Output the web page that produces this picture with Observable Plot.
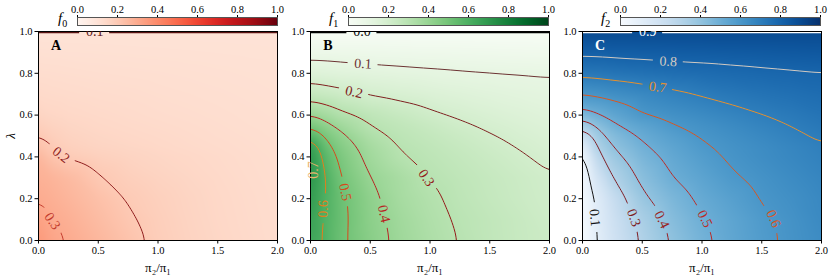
<!DOCTYPE html>
<html>
<head>
<meta charset="utf-8">
<script src="https://cdn.jsdelivr.net/npm/d3@7"></script>
<script src="https://cdn.jsdelivr.net/npm/@observablehq/plot@0.6"></script>
<style>
  html, body { margin: 0; padding: 0; background: #fff; }
  #chart { position: relative; width: 830px; height: 277px; overflow: hidden; font-family: "Liberation Serif", "DejaVu Serif", serif; }
  #chart svg { position: absolute; top: 0; }
  .cblabel { position: absolute; font-size: 15px; line-height: 1; }
  .cblabel sub { font-size: 10px; font-style: normal; }
  #chart [aria-label="y-axis label"] { font-style: italic; font-size: 13px; }
  #chart [aria-label="x-axis label"] { font-size: 13px; }
</style>
</head>
<body>
<div id="chart"></div>
<script>
// ---- grid axes ----
const ratio  = [0, 0.1, 0.25, 0.5, 0.75, 1, 1.25, 1.5, 1.75, 2];          // pi2/pi1
const lambda = [0, 0.1, 0.2, 0.3, 0.4, 0.45, 0.5, 0.55, 0.6, 0.7, 0.8, 0.9, 1]; // rows

// ---- f0 (panel A), rows = lambda, columns = ratio ----
const f0 = [
  [0.355, 0.320, 0.297, 0.260, 0.222, 0.186, 0.166, 0.151, 0.139, 0.128],
  [0.335, 0.301, 0.282, 0.245, 0.208, 0.182, 0.163, 0.148, 0.137, 0.127],
  [0.297, 0.285, 0.265, 0.230, 0.195, 0.176, 0.160, 0.146, 0.135, 0.126],
  [0.280, 0.270, 0.250, 0.203, 0.180, 0.165, 0.153, 0.142, 0.132, 0.124],
  [0.265, 0.222, 0.190, 0.175, 0.163, 0.153, 0.145, 0.137, 0.129, 0.122],
  [0.230, 0.198, 0.175, 0.160, 0.152, 0.145, 0.138, 0.132, 0.126, 0.120],
  [0.203, 0.180, 0.165, 0.153, 0.146, 0.140, 0.134, 0.128, 0.123, 0.118],
  [0.180, 0.165, 0.155, 0.146, 0.140, 0.135, 0.130, 0.125, 0.120, 0.116],
  [0.160, 0.152, 0.146, 0.140, 0.135, 0.130, 0.126, 0.122, 0.118, 0.114],
  [0.140, 0.137, 0.134, 0.130, 0.127, 0.123, 0.120, 0.117, 0.114, 0.111],
  [0.126, 0.125, 0.123, 0.120, 0.118, 0.116, 0.114, 0.112, 0.110, 0.108],
  [0.113, 0.112, 0.111, 0.110, 0.109, 0.108, 0.107, 0.106, 0.105, 0.104],
  [0.100, 0.100, 0.100, 0.100, 0.100, 0.100, 0.100, 0.100, 0.100, 0.100]
];

// ---- f1 (panel B) ----
const f1 = [
  [0.645, 0.600, 0.519, 0.440, 0.378, 0.333, 0.297, 0.268, 0.245, 0.225],
  [0.665, 0.600, 0.525, 0.432, 0.370, 0.325, 0.290, 0.266, 0.243, 0.217],
  [0.695, 0.609, 0.520, 0.425, 0.355, 0.314, 0.280, 0.255, 0.232, 0.210],
  [0.720, 0.620, 0.500, 0.400, 0.347, 0.297, 0.272, 0.249, 0.227, 0.205],
  [0.715, 0.585, 0.475, 0.370, 0.306, 0.280, 0.256, 0.232, 0.208, 0.185],
  [0.700, 0.550, 0.452, 0.356, 0.294, 0.270, 0.245, 0.220, 0.196, 0.173],
  [0.580, 0.495, 0.424, 0.329, 0.282, 0.257, 0.231, 0.205, 0.182, 0.162],
  [0.485, 0.435, 0.373, 0.297, 0.268, 0.240, 0.212, 0.188, 0.169, 0.151],
  [0.400, 0.367, 0.317, 0.275, 0.244, 0.214, 0.190, 0.171, 0.155, 0.141],
  [0.255, 0.240, 0.222, 0.193, 0.177, 0.162, 0.149, 0.137, 0.127, 0.119],
  [0.151, 0.146, 0.138, 0.128, 0.120, 0.113, 0.107, 0.103, 0.100, 0.097],
  [0.070, 0.069, 0.067, 0.064, 0.061, 0.058, 0.056, 0.053, 0.050, 0.048],
  [0.000, 0.000, 0.000, 0.000, 0.000, 0.000, 0.000, 0.000, 0.000, 0.000]
];

// ---- f2 (panel C) ----
const f2 = [
  [0.000, 0.084, 0.187, 0.314, 0.408, 0.478, 0.534, 0.579, 0.616, 0.647],
  [0.000, 0.097, 0.200, 0.335, 0.431, 0.495, 0.541, 0.586, 0.620, 0.655],
  [0.000, 0.104, 0.223, 0.383, 0.459, 0.518, 0.562, 0.605, 0.632, 0.660],
  [0.000, 0.156, 0.306, 0.424, 0.500, 0.545, 0.591, 0.620, 0.647, 0.672],
  [0.020, 0.243, 0.369, 0.465, 0.526, 0.574, 0.612, 0.640, 0.664, 0.687],
  [0.070, 0.307, 0.405, 0.488, 0.542, 0.590, 0.620, 0.645, 0.670, 0.695],
  [0.210, 0.345, 0.431, 0.514, 0.564, 0.607, 0.634, 0.660, 0.686, 0.710],
  [0.336, 0.410, 0.485, 0.545, 0.596, 0.624, 0.651, 0.677, 0.702, 0.726],
  [0.444, 0.490, 0.534, 0.600, 0.625, 0.649, 0.674, 0.698, 0.718, 0.740],
  [0.605, 0.615, 0.631, 0.657, 0.683, 0.706, 0.726, 0.742, 0.755, 0.768],
  [0.724, 0.728, 0.736, 0.748, 0.759, 0.768, 0.777, 0.785, 0.791, 0.796],
  [0.818, 0.819, 0.822, 0.826, 0.829, 0.832, 0.836, 0.839, 0.843, 0.847],
  [0.900, 0.900, 0.900, 0.900, 0.900, 0.900, 0.900, 0.900, 0.900, 0.900]
];

// ---- ticks ----
const xTicks  = [0, 0.5, 1, 1.5, 2];
const yTicks  = [0, 0.2, 0.4, 0.6, 0.8, 1];
const cbTicks = [0, 0.2, 0.4, 0.6, 0.8, 1];

// ---- contour levels drawn in each panel, and the level lying on the top edge ----
const levelsA = [0.2, 0.3], edgeA = 0.1;
const levelsB = [0.1, 0.2, 0.3, 0.4, 0.5, 0.6, 0.7], edgeB = 0.0;
const levelsC = [0.1, 0.3, 0.4, 0.5, 0.6, 0.7, 0.8], edgeC = 0.9;

// ---- inline contour labels (data coordinates on the contour) ----
const labelsA = [
  {x: 0.47, y: 1, t: 0.1, r: 0, edge: true},
  {x: 0.19, y: 0.41, t: 0.2, r: 38},
  {x: 0.117, y: 0.093, t: 0.3, r: 55}
];
const labelsB = [
  {x: 0.43, y: 1, t: 0.0, r: 0, edge: true},
  {x: 0.44, y: 0.846, t: 0.1, r: 3.5},
  {x: 0.364, y: 0.71, t: 0.2, r: 13},
  {x: 0.97, y: 0.30, t: 0.3, r: 55},
  {x: 0.615, y: 0.128, t: 0.4, r: 77},
  {x: 0.29, y: 0.232, t: 0.5, r: 78},
  {x: 0.105, y: 0.152, t: 0.6, r: -88},
  {x: 0.028, y: 0.337, t: 0.7, r: -90}
];
const labelsC = [
  {x: 0.545, y: 1, t: 0.9, r: 0, edge: true},
  {x: 0.718, y: 0.857, t: 0.8, r: 3},
  {x: 0.63, y: 0.734, t: 0.7, r: 7},
  {x: 0.103, y: 0.109, t: 0.1, r: 84},
  {x: 0.43, y: 0.109, t: 0.3, r: 70},
  {x: 0.665, y: 0.10, t: 0.4, r: 64},
  {x: 1.025, y: 0.104, t: 0.5, r: 63},
  {x: 1.60, y: 0.104, t: 0.6, r: 66}
];

// ---- contour colours ----
const colorsA = {0.1: "#5a1212", 0.2: "#8e1c1c", 0.3: "#c23a2c"};
const colorsB = {0: "#000000", 0.1: "#6b3232", 0.2: "#7e2020", 0.3: "#931818", 0.4: "#b82222",
                 0.5: "#d64a1c", 0.6: "#e27e1e", 0.7: "#ecb46e"};
const colorsC = {0.1: "#141414", 0.3: "#7e1c22", 0.4: "#9a1e22", 0.5: "#bc2a24", 0.6: "#da561e",
                 0.7: "#e5902e", 0.8: "#d2cac2", 0.9: "#ffffff"};

const panels = [
  {field: f0, scheme: "reds",   levels: levelsA, edge: edgeA, colors: colorsA, labels: labelsA,
   letter: "A", letterColor: "black", ylabel: "λ", left: 0,   cbLeft: 67,  fname: "0"},
  {field: f1, scheme: "greens", levels: levelsB, edge: edgeB, colors: colorsB, labels: labelsB,
   letter: "B", letterColor: "black", ylabel: null, left: 272, cbLeft: 338, fname: "1"},
  {field: f2, scheme: "blues",  levels: levelsC, edge: edgeC, colors: colorsC, labels: labelsC,
   letter: "C", letterColor: "white", ylabel: null, left: 544, cbLeft: 610, fname: "2"}
];

const chart = document.getElementById("chart");
const baseStyle = {background: "transparent", fontFamily: "Liberation Serif", fontSize: "10.5px", overflow: "visible"};
const ns = "http://www.w3.org/2000/svg";

panels.forEach((cfg, k) => {
  const pts = [];
  lambda.forEach((l, i) => ratio.forEach((r, j) => pts.push({r, l, v: cfg.field[i][j]})));
  const ext = {x1: d3.min(ratio), x2: d3.max(ratio), y1: d3.min(lambda), y2: d3.max(lambda)};

  const svg = Plot.plot({
    width: 285, height: 277,
    marginLeft: 38, marginRight: 8, marginTop: 31, marginBottom: 37,
    style: baseStyle,
    x: {domain: d3.extent(ratio), ticks: xTicks, tickFormat: ".1f", tickSize: 3.5, tickPadding: 2.5,
        label: "π₂/π₁", labelAnchor: "center", labelOffset: 31, labelArrow: "none"},
    y: {domain: d3.extent(lambda), ticks: yTicks, tickFormat: ".1f", tickSize: 3.5, tickPadding: 2.5,
        label: cfg.ylabel, labelAnchor: "center", labelOffset: 33, labelArrow: "none"},
    color: {type: "linear", scheme: cfg.scheme, domain: [0, 1]},
    marks: [
      Plot.raster(pts, {x: "r", y: "l", fill: "v", interpolate: "barycentric", ...ext, pixelSize: 1, blur: 4}),
      ...cfg.levels.map(t => Plot.contour(pts, {
        x: "r", y: "l", value: "v", thresholds: [t], interpolate: "barycentric", ...ext, pixelSize: 1, blur: 7,
        stroke: cfg.colors[t], strokeWidth: 1, fill: "none", clip: true
      })),
      Plot.ruleY([ext.y2], {stroke: cfg.colors[cfg.edge], strokeWidth: 1.3, dy: 1}),
      Plot.frame({stroke: "black", strokeWidth: 1}),
      ...cfg.labels.map(lb => Plot.text([lb], {
        x: "x", y: "y", text: d => d.t.toFixed(1), rotate: lb.r,
        fill: cfg.colors[lb.t], fontSize: 14, textAnchor: "middle", lineAnchor: "middle",
        clip: !!lb.edge
      })),
      Plot.text([cfg.letter], {frameAnchor: "top-left", dx: 17.5, dy: 14.5, text: d => d,
        fontSize: 14, fontWeight: "bold", fill: cfg.letterColor, textAnchor: "middle", lineAnchor: "middle"})
    ]
  });
  svg.style.left = cfg.left + "px";

  // break contour lines under their inline labels (like matplotlib clabel)
  const sx = svg.scale("x"), sy = svg.scale("y");
  const defs = document.createElementNS(ns, "defs");
  const mask = document.createElementNS(ns, "mask");
  const id = "gapmask" + k;
  mask.setAttribute("id", id);
  mask.setAttribute("maskUnits", "userSpaceOnUse");
  mask.setAttribute("x", 0); mask.setAttribute("y", 0);
  mask.setAttribute("width", 285); mask.setAttribute("height", 277);
  const full = document.createElementNS(ns, "rect");
  full.setAttribute("width", 285); full.setAttribute("height", 277); full.setAttribute("fill", "white");
  mask.appendChild(full);
  cfg.labels.forEach(lb => {
    const r = document.createElementNS(ns, "rect");
    const w = 30, h = 12;
    r.setAttribute("x", -w / 2); r.setAttribute("y", -h / 2);
    r.setAttribute("width", w); r.setAttribute("height", h);
    r.setAttribute("fill", "black");
    r.setAttribute("transform", `translate(${sx.apply(lb.x)},${sy.apply(lb.y)}) rotate(${lb.r})`);
    mask.appendChild(r);
  });
  defs.appendChild(mask);
  svg.insertBefore(defs, svg.firstChild);
  svg.querySelectorAll('g[aria-label="contour"], g[aria-label="rule"]').forEach(g => g.setAttribute("mask", `url(#${id})`));
  chart.appendChild(svg);

  // colour bar
  const cb = Plot.plot({
    width: 220, height: 27, marginLeft: 10, marginRight: 10, marginTop: 17, marginBottom: 2,
    style: baseStyle,
    x: {domain: [0, 1], axis: "top", ticks: cbTicks, tickFormat: ".1f", tickSize: 3, tickPadding: 2, label: null},
    y: {domain: [0, 1], axis: null},
    color: {type: "linear", scheme: cfg.scheme, domain: [0, 1]},
    marks: [
      Plot.raster({x1: 0, x2: 1, y1: 0, y2: 1, fill: (x, y) => x, pixelSize: 1}),
      Plot.frame({stroke: "#555", strokeWidth: 1})
    ]
  });
  cb.style.left = cfg.cbLeft + "px";
  chart.appendChild(cb);

  const lab = document.createElement("div");
  lab.className = "cblabel";
  lab.style.left = (cfg.cbLeft - 9) + "px";
  lab.style.top = "11px";
  lab.innerHTML = `<i>f</i><sub>${cfg.fname}</sub>`;
  chart.appendChild(lab);
});
</script>
</body>
</html>
